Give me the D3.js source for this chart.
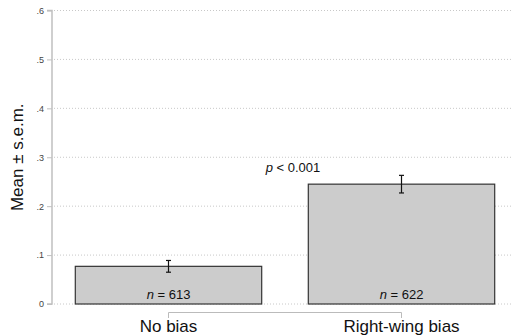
<!DOCTYPE html>
<html>
<head>
<meta charset="utf-8">
<script src="https://cdn.jsdelivr.net/npm/d3@7"></script>
<style>
  html, body { margin: 0; padding: 0; background: #fff; }
  svg { display: block; font-family: "Liberation Sans", Arial, Helvetica, sans-serif; }
</style>
</head>
<body>
<svg id="chart" width="513" height="336"></svg>
<script>
// Experimental conditions and their means with standard errors
const categories = ["No bias", "Right-wing bias"];
const means = [0.077, 0.245];
const sems = [0.012, 0.018];
const sampleSizes = [613, 622];
const yTicks = [0, 0.1, 0.2, 0.3, 0.4, 0.5, 0.6];
const yTickLabels = ["0", ".1", ".2", ".3", ".4", ".5", ".6"];
const pLabel = "0.001";

const svg = d3.select("#chart");
const W = 513, H = 336;
const axisX = 52;

const y = d3.scaleLinear().domain([0, 0.6]).range([304, 10.5]);
const x = d3.scaleBand()
  .domain(categories)
  .range([axisX, 518])
  .paddingInner(0.2)
  .paddingOuter(0.1);

// dotted horizontal gridlines
svg.append("g")
  .selectAll("line")
  .data(yTicks)
  .join("line")
  .attr("x1", axisX + 2)
  .attr("x2", W)
  .attr("y1", d => y(d))
  .attr("y2", d => y(d))
  .attr("stroke", "#c8c8c8")
  .attr("stroke-width", 1)
  .attr("stroke-dasharray", "1,2");

// y axis
const yAxis = d3.axisLeft(y)
  .tickValues(yTicks)
  .tickFormat((d, i) => yTickLabels[i])
  .tickSize(5)
  .tickPadding(3);
const gy = svg.append("g")
  .attr("transform", `translate(${axisX},0)`)
  .call(yAxis);
gy.select(".domain").attr("stroke", "#c0c0c0").attr("stroke-width", 1.5)
  .attr("d", `M-5,${y(0.6)}H0V${y(0)}H-5`);
gy.selectAll(".tick line").attr("stroke", "#c0c0c0");
gy.selectAll(".tick text")
  .attr("fill", "#444")
  .style("font-size", "9px")
  .style("font-family", "'Liberation Sans', Arial, sans-serif");

// y axis title
svg.append("text")
  .attr("transform", `translate(23,${(y(0) + y(0.6)) / 2}) rotate(-90)`)
  .attr("text-anchor", "middle")
  .style("font-size", "17px")
  .attr("fill", "#111")
  .text("Mean \u00b1 s.e.m.");

const rows = categories.map((c, i) => ({ c, m: means[i], s: sems[i], n: sampleSizes[i] }));

// bars
svg.append("g")
  .selectAll("rect")
  .data(rows)
  .join("rect")
  .attr("x", d => x(d.c))
  .attr("y", d => y(d.m))
  .attr("width", x.bandwidth())
  .attr("height", d => y(0) - y(d.m))
  .attr("fill", "#cccccc")
  .attr("stroke", "#333")
  .attr("stroke-width", 1.2);

// error bars
const eb = svg.append("g").attr("stroke", "#111").attr("stroke-width", 1.2);
rows.forEach(d => {
  const cx = x(d.c) + x.bandwidth() / 2;
  eb.append("line").attr("x1", cx).attr("x2", cx)
    .attr("y1", y(d.m - d.s)).attr("y2", y(d.m + d.s));
  [d.m - d.s, d.m + d.s].forEach(v => {
    eb.append("line").attr("x1", cx - 2.5).attr("x2", cx + 2.5)
      .attr("y1", y(v)).attr("y2", y(v));
  });
});

// sample size labels
const nLab = svg.append("g")
  .selectAll("text")
  .data(rows)
  .join("text")
  .attr("x", d => x(d.c) + x.bandwidth() / 2)
  .attr("y", 299)
  .attr("text-anchor", "middle")
  .style("font-size", "13px")
  .attr("fill", "#111");
nLab.append("tspan").style("font-style", "italic").text("n");
nLab.append("tspan").text(d => " = " + d.n);

// comparison bracket between the two conditions
const c0 = x(categories[0]) + x.bandwidth() / 2;
const c1 = x(categories[1]) + x.bandwidth() / 2;
svg.append("path")
  .attr("d", `M${c0},318V312.5H${c1}V318`)
  .attr("fill", "none")
  .attr("stroke", "#bbb")
  .attr("stroke-width", 1);

// p-value label
const pt = svg.append("text")
  .attr("x", 293)
  .attr("y", 172)
  .attr("text-anchor", "middle")
  .style("font-size", "13px")
  .attr("fill", "#111");
pt.append("tspan").style("font-style", "italic").text("p");
pt.append("tspan").text(" < " + pLabel);

// category labels
svg.append("g")
  .selectAll("text")
  .data(categories)
  .join("text")
  .attr("x", d => x(d) + x.bandwidth() / 2)
  .attr("y", 332)
  .attr("text-anchor", "middle")
  .style("font-size", "17px")
  .attr("fill", "#111")
  .text(d => d);
</script>
</body>
</html>
